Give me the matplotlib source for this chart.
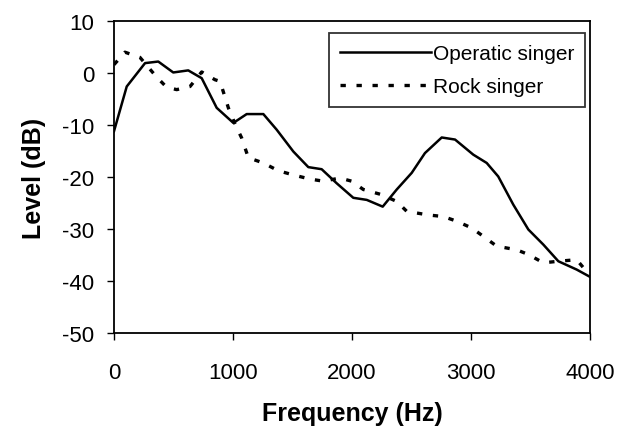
import numpy as np
import matplotlib
matplotlib.use("Agg")
import matplotlib.pyplot as plt

plt.rcParams['font.family'] = ['Liberation Sans', 'DejaVu Sans']
plt.rcParams['axes.unicode_minus'] = False

# Operatic singer spectrum
opera_freq = [0, 107, 261, 372, 498, 624, 737, 863, 1003, 1115, 1255, 1367, 1507,
              1633, 1745, 1871, 2011, 2124, 2258, 2376, 2502, 2613, 2754, 2866,
              3019, 3132, 3229, 3355, 3482, 3608, 3734, 3888, 4000]
opera_db = [-11.2, -2.6, 1.9, 2.2, 0.1, 0.5, -1.0, -6.7, -9.6, -7.9, -7.9, -10.9, -15.1,
            -18.1, -18.5, -21.2, -24.0, -24.4, -25.7, -22.4, -19.2, -15.4, -12.4, -12.8,
            -15.7, -17.3, -19.9, -25.3, -30.1, -33.0, -36.2, -37.8, -39.2]

# Rock singer spectrum
rock_freq = [0, 92, 218, 359, 443, 527, 639, 737, 849, 891, 961, 1017, 1073, 1129,
             1255, 1381, 1507, 1647, 1759, 1899, 1997, 2095, 2250, 2376, 2460, 2641,
             2767, 2880, 3006, 3103, 3216, 3384, 3482, 3608, 3734, 3888, 3958, 4000]
rock_db = [1.6, 4.0, 3.0, -0.8, -2.75, -3.2, -2.6, 0.2, -1.3, -1.6, -6.7, -9.8, -12.5, -16.3,
           -17.3, -18.8, -19.6, -20.4, -20.8, -20.2, -20.8, -22.4, -23.4, -24.7, -26.6, -27.3,
           -27.6, -28.5, -29.8, -31.4, -33.3, -34.0, -34.9, -36.5, -36.2, -35.9, -37.8, -38.8]

fig = plt.figure(figsize=(6.26, 4.31), dpi=100)
ax = fig.add_axes([0.1821, 0.225, 0.7604, 0.724])

ax.plot(opera_freq, opera_db, color='black', lw=1.8, label='Operatic singer')
ax.plot(rock_freq, rock_db, color='black', lw=2.4, linestyle=(0, (1.6, 3.2)),
        label='Rock singer')

ax.set_xlim(0, 4000)
ax.set_ylim(-50, 10)
ax.set_xticks([0, 1000, 2000, 3000, 4000])
ax.set_yticks([10, 0, -10, -20, -30, -40, -50])
ax.tick_params(direction='out', length=5, width=1, labelsize=16)
ax.tick_params(axis='x', pad=16)
ax.tick_params(axis='y', pad=9)
for s in ax.spines.values():
    s.set_linewidth(1.3)

ax.set_xlabel('Frequency (Hz)', fontsize=18, fontweight='bold', labelpad=13)
ax.set_ylabel('Level (dB)', fontsize=18, fontweight='bold', labelpad=12)

leg = ax.legend(loc='upper right', fontsize=15, handlelength=4.4, frameon=True,
                fancybox=False, edgecolor='black', borderpad=0.5, labelspacing=0.7,
                handletextpad=0.1, borderaxespad=0, bbox_to_anchor=(0.99, 0.96))
leg.get_frame().set_linewidth(1.3)

fig.savefig('out.png', dpi=100)
